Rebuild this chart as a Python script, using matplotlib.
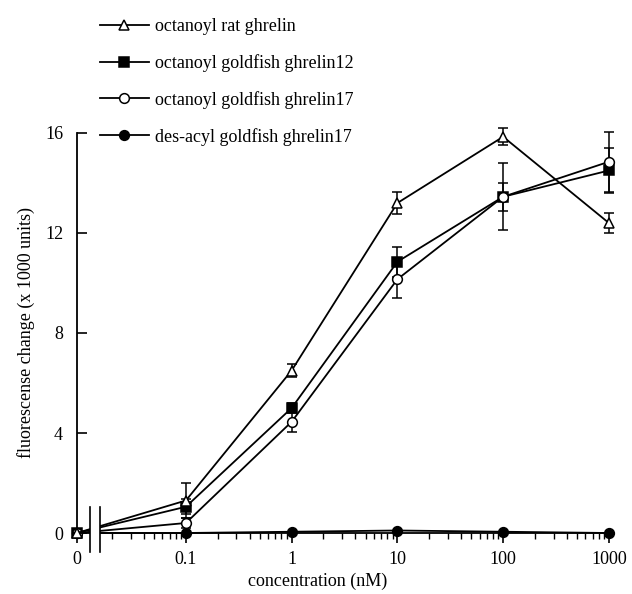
import numpy as np
import matplotlib
matplotlib.use("Agg")
import matplotlib.pyplot as plt
from matplotlib.ticker import FixedLocator, NullFormatter
from matplotlib.patches import Rectangle

plt.rcParams['font.family'] = ['Liberation Serif', 'DejaVu Serif']
plt.rcParams['font.size'] = 13

# concentrations (nM); 0 = vehicle, drawn left of the axis break
conc = [0, 0.1, 1, 10, 100, 1000]
xtick_labels = ['0', '0.1', '1', '10', '100', '1000']

rat_oct = [0, 1.3, 6.5, 13.2, 15.85, 12.4]
rat_oct_err = [0, 0.7, 0.25, 0.45, 0.35, 0.4]
gf12_oct = [0, 1.05, 5.0, 10.85, 13.45, 14.5]
gf12_oct_err = [0, 0.3, 0.2, 0.6, 0.55, 0.9]
gf17_oct = [0, 0.4, 4.45, 10.15, 13.45, 14.85]
gf17_oct_err = [0, 0.2, 0.4, 0.75, 1.35, 1.2]
gf17_des = [0, 0.0, 0.05, 0.1, 0.05, 0.0]

labels = ['octanoyl rat ghrelin', 'octanoyl goldfish ghrelin12',
          'octanoyl goldfish ghrelin17', 'des-acyl goldfish ghrelin17']

# broken axis: 0 sits ~1.03 decades to the left of 0.1, rest is log10
X0 = -2.03


def fwd(x):
    x = np.asarray(x, dtype=float)
    with np.errstate(divide='ignore', invalid='ignore'):
        return np.where(x > 0, np.log10(np.maximum(x, 10 ** X0)), X0)


def inv(y):
    y = np.asarray(y, dtype=float)
    return np.where(y > X0, 10.0 ** y, 0.0)


fig = plt.figure(figsize=(6.32, 5.94), dpi=100)
ax = fig.add_axes([77 / 632, 1 - 533 / 594, (612 - 77) / 632, 400 / 594])
ax.set_xscale('function', functions=(fwd, inv))
ax.set_xlim(0, 1070)
ax.set_ylim(0, 16)

kw = dict(color='black', lw=1.3, ms=7, capsize=3.5, elinewidth=1.1,
          capthick=1.1, clip_on=False, mew=1.1)
h4 = ax.errorbar(conc, gf17_des, marker='o', mfc='black', zorder=3, **kw)
h2 = ax.errorbar(conc, gf12_oct, yerr=gf12_oct_err, marker='s',
                 mfc='black', zorder=4, **kw)
h3 = ax.errorbar(conc, gf17_oct, yerr=gf17_oct_err, marker='o',
                 mfc='white', zorder=5, **kw)
h1 = ax.errorbar(conc, rat_oct, yerr=rat_oct_err, marker='^',
                 mfc='white', zorder=6, **kw)
for h in (h1, h2, h3, h4):
    for c in h[1] + h[2]:
        c.set_clip_on(False)

# ticks
ax.xaxis.set_major_locator(FixedLocator(conc))
ax.set_xticklabels(xtick_labels)
minors = [m * 10.0 ** e for e in range(-2, 3) for m in range(2, 10)]
ax.xaxis.set_minor_locator(FixedLocator(minors))
ax.xaxis.set_minor_formatter(NullFormatter())
ax.tick_params(axis='x', which='major', direction='out', length=7, width=1.2, pad=6)
ax.tick_params(axis='x', which='minor', direction='out', length=4, width=1)
ax.set_yticks([0, 4, 8, 12, 16])
ax.tick_params(axis='y', direction='in', length=7, width=1.2, pad=10)

for s in ('top', 'right'):
    ax.spines[s].set_visible(False)
ax.spines['left'].set_linewidth(1.3)
ax.spines['bottom'].set_linewidth(1.3)
ax.spines['bottom'].set_bounds(0.0151, 1070)

# break marks (two short verticals, blank gap between them)
tr = ax.get_xaxis_transform()
xb1, xb2 = 0.0124, 0.0153
ax.add_patch(Rectangle((xb1, -0.05), xb2 - xb1, 0.115, transform=tr,
                       facecolor='white', edgecolor='none', zorder=7, clip_on=False))
for xb in (xb1, xb2):
    ax.plot([xb, xb], [-0.048, 0.065], transform=tr, color='black', lw=1.2,
            clip_on=False, zorder=8)

ax.set_xlabel('concentration (nM)')
ax.xaxis.set_label_coords(0.45, -0.1)
ax.set_ylabel('fluorescense change (x 1000 units)', labelpad=7)

ax.legend([h1[0], h2[0], h3[0], h4[0]], labels, loc='upper left', frameon=False,
          bbox_to_anchor=(100 / 632, 1 - 18 / 594), bbox_transform=fig.transFigure,
          borderpad=0, borderaxespad=0, handlelength=2.7, handletextpad=0.35,
          labelspacing=1.05)

fig.savefig('out.png', dpi=100)
